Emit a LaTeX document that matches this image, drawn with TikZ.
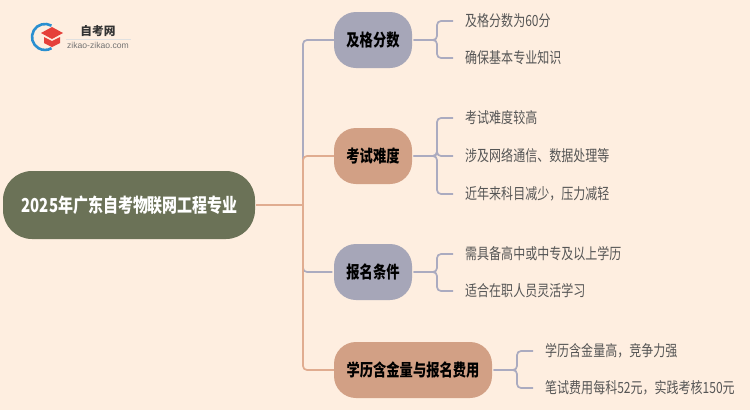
\documentclass[tikz,border=0pt]{standalone}
\usepackage{fontspec}
\setmainfont{Noto Sans CJK SC}[FakeStretch=0.78]
\newfontfamily\logofont{Noto Sans CJK SC}
\newfontfamily\latinlogo{Liberation Sans}
\definecolor{bgc}{HTML}{FEEEE0}
\definecolor{rootc}{HTML}{6B7257}
\definecolor{bluec}{HTML}{A6A6B8}
\definecolor{orc}{HTML}{D2A085}
\definecolor{bline}{HTML}{ABABC0}
\definecolor{oline}{HTML}{E0AC90}
\definecolor{leaftext}{HTML}{555555}
\definecolor{logoblue}{HTML}{2A8FD0}
\definecolor{logored}{HTML}{E5403A}
\tikzset{
  rootbox/.style={fill=rootc,text=white,rounded corners=29pt,minimum width=252pt,minimum height=68pt,inner sep=0pt,font=\fontsize{19.2}{21}\selectfont\bfseries},
  branch/.style={rounded corners=22pt,minimum height=56pt,inner sep=0pt,text=black,font=\fontsize{17}{19}\selectfont\bfseries},
  short/.style={branch,minimum width=78pt},
  wide/.style={branch,minimum width=158pt},
  leaf/.style={anchor=west,inner sep=0pt,text=leaftext,font=\fontsize{15.4}{17}\selectfont},
  conn/.style={line width=1.7pt,rounded corners=4pt},
  gap/.style={shorten <=1.5pt}
}
\begin{document}
\begin{tikzpicture}[x=1pt,y=-1pt]
\fill[bgc] (0,0) rectangle (750,410);
\useasboundingbox (0,0) rectangle (750,410);
% logo
\draw[line width=2.6pt,logoblue] (51.5,25.7) arc[start angle=60,end angle=300,radius=13pt];
\fill[logored] (52,27) -- (63,33) -- (52,39) -- (41,33) -- cycle;
\fill[logored] (44,37) -- (52,41) -- (60,37) -- (60,43) -- (52,47) -- (44,43) -- cycle;
\node[inner sep=0pt,text=black!80] (logoa) at (98,31) {\logofont\fontsize{11.7}{13}\selectfont\bfseries 自考网};
\draw[black!12,line width=.5pt] (66,39) -- (131,39);
\node[inner sep=0pt,text=black!55] (logob) at (98,45) {\latinlogo\fontsize{8.6}{9}\selectfont zikao-zikao.com};
% nodes
\node[rootbox] (root) at (129,205) {\hspace{1.5pt}2025年广东自考物联网工程专业};
\node[short,fill=bluec] (b1) at (373,40) {及格分数};
\node[short,fill=orc] (b2) at (373,156) {考试难度};
\node[short,fill=bluec] (b3) at (373,272) {报名条件};
\node[wide,fill=orc] (b4) at (413,370) {学历含金量与报名费用};
\node[leaf] (l11) at (465,21) {及格分数为60分};
\node[leaf] (l12) at (465,58) {确保基本专业知识};
\node[leaf] (l21) at (465,118) {考试难度较高};
\node[leaf] (l22) at (465,156) {涉及网络通信、数据处理等};
\node[leaf] (l23) at (465,194) {近年来科目减少，压力减轻};
\node[leaf] (l31) at (465,254) {需具备高中或中专及以上学历};
\node[leaf] (l32) at (465,291) {适合在职人员灵活学习};
\node[leaf] (l41) at (545,351) {学历含金量高，竞争力强};
\node[leaf] (l42) at (545,388) {笔试费用每科52元，实践考核150元};
% junctions
\coordinate (trunk) at (303,205);
\coordinate (j1) at (437,40);
\coordinate (j2) at (437,156);
\coordinate (j3) at (437,272);
\coordinate (j4) at (517,370);
% trunk connectors
\draw[conn,bline] (trunk) -- (trunk |- b2.west) -- (trunk |- b1.west) -- (b1.west);
\draw[conn,bline,shorten >=1.5pt] (trunk) |- (b3.west);
\draw[conn,oline] (trunk) |- (b4.west);
\draw[conn,oline] (trunk) |- (b2.west);
\draw[conn,oline,shorten <=1pt] (root.east) -- (trunk);
% leaf connectors
\foreach \j/\b/\l in {j1/b1/l11,j1/b1/l12,j2/b2/l21,j2/b2/l22,j2/b2/l23,j3/b3/l31,j3/b3/l32,j4/b4/l41,j4/b4/l42}{
  \draw[conn,bline,gap] (\b.east) -- (\j) |- ([xshift=-12pt]\l.west);
}
\end{tikzpicture}
\end{document}
